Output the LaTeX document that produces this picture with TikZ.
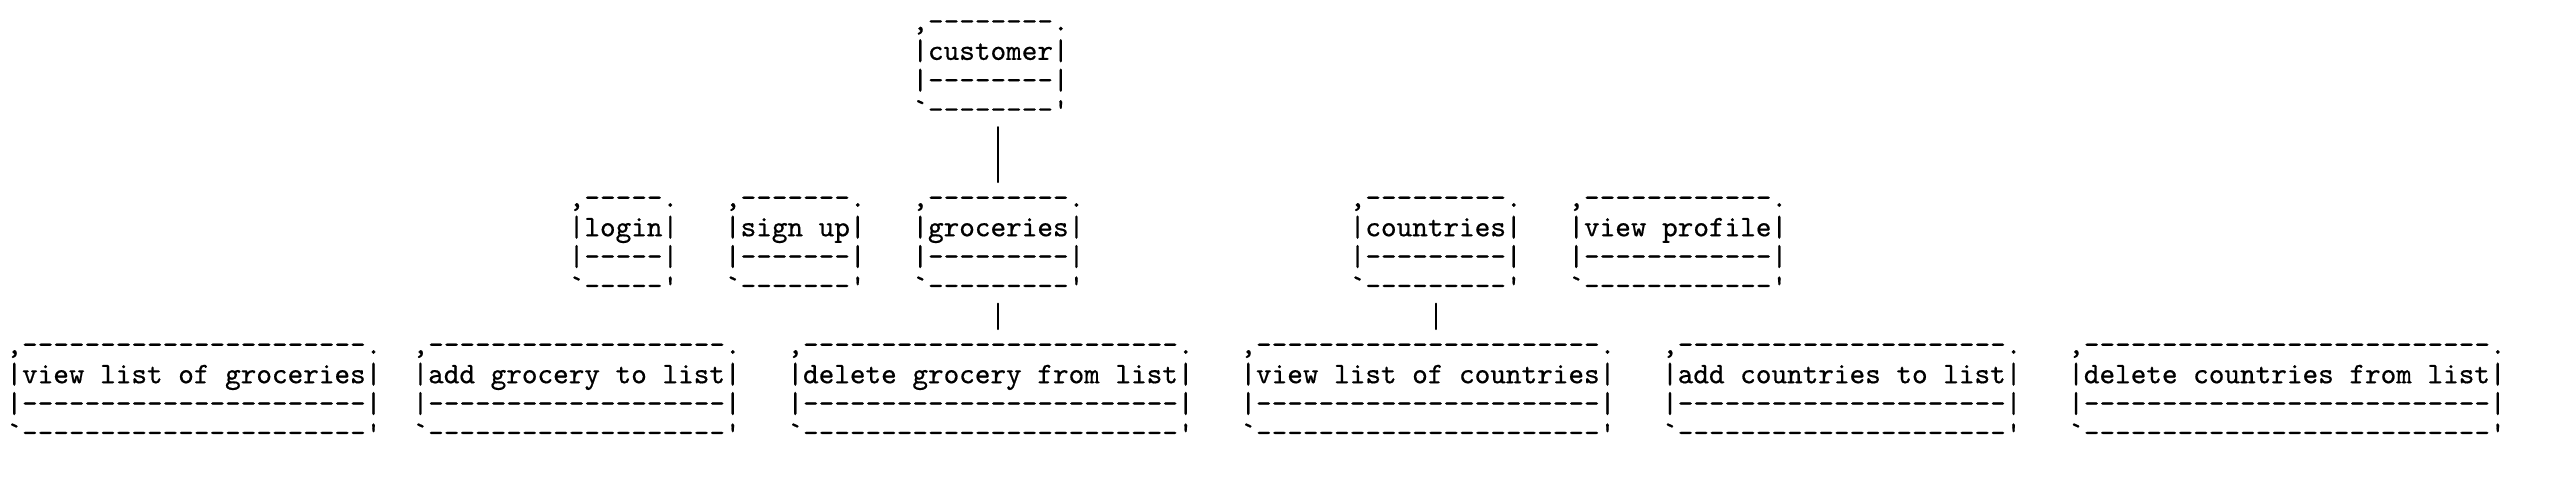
\documentclass[tikz,border=0pt]{standalone}
\usepackage{fontspec}
\usepackage{tikz}
\newfontfamily\boxfont{lmmono10-regular.otf}[FakeBold=0.6]

\newcommand{\boxstrut}{\vrule width 0pt height 7pt depth 2.88pt}
\newcommand{\asciibox}[2]{\vtop{\baselineskip=9.88pt\lineskiplimit=-\maxdimen
		\hbox{\boxstrut,#2.}\hbox{\boxstrut|#1|}\hbox{\boxstrut|#2|}\hbox{\boxstrut`#2'}}}

\begin{document}
\begin{tikzpicture}[line cap=round,line join=round, x=5.25pt,y=-9.88pt,
		abox/.style={anchor=base west,inner sep=0pt,outer sep=0pt,font=\boxfont\fontsize{10pt}{9.88pt}\selectfont},
		link/.style={line width=0.7pt,shorten >=1.3pt}]
	\useasboundingbox (-2.18pt,10.25pt) rectangle (854.92pt,-151.75pt);
	\node[abox] (cust) at (58,0) {\asciibox{customer}{--------}};
	\node[abox] (login) at (36,6) {\asciibox{login}{-----}};
	\node[abox] (signup) at (46,6) {\asciibox{sign up}{-------}};
	\node[abox] (groc) at (58,6) {\asciibox{groceries}{---------}};
	\node[abox] (ctry) at (86,6) {\asciibox{countries}{---------}};
	\node[abox] (prof) at (100,6) {\asciibox{view profile}{------------}};
	\node[abox] (vlg) at (0,11) {\asciibox{view list of groceries}{----------------------}};
	\node[abox] (addg) at (26,11) {\asciibox{add grocery to list}{-------------------}};
	\node[abox] (delg) at (50,11) {\asciibox{delete grocery from list}{------------------------}};
	\node[abox] (vlc) at (79,11) {\asciibox{view list of countries}{----------------------}};
	\node[abox] (addc) at (106,11) {\asciibox{add countries to list}{---------------------}};
	\node[abox] (delc) at (132,11) {\asciibox{delete countries from list}{--------------------------}};
	\draw[link] (groc.north |- cust.south) -- (groc.north);
	\draw[link] (groc.south) -- (groc.south |- delg.north);
	\draw[link] (ctry.south) -- (ctry.south |- vlc.north);
\end{tikzpicture}
\end{document}
